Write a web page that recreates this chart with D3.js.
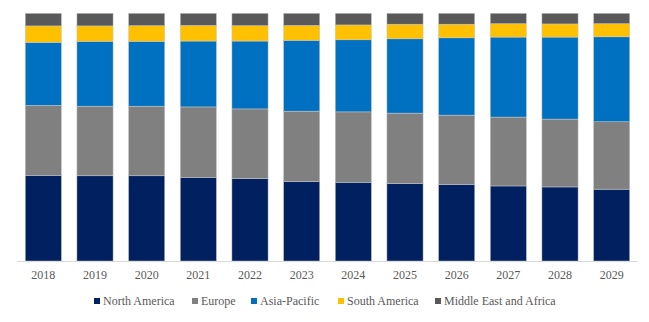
<!DOCTYPE html>
<html>
<head>
<meta charset="utf-8">
<script src="https://cdn.jsdelivr.net/npm/d3@7"></script>
<style>
  body { margin: 0; background: #fff; }
</style>
</head>
<body>
<svg id="chart" width="649" height="322"></svg>
<script>
var years = ['2018','2019','2020','2021','2022','2023','2024','2025','2026','2027','2028','2029'];
var seriesNames = ['North America','Europe','Asia-Pacific','South America','Middle East and Africa'];
var seriesColors = ['#002060','#808080','#0070c0','#ffc000','#595959'];

// share of market, percent
var northAmerica = [34.6, 34.4, 34.4, 33.8, 33.3, 32.1, 31.8, 31.3, 30.9, 30.3, 29.9, 29.0];
var europe       = [28.2, 28.1, 28.1, 28.4, 28.1, 28.4, 28.4, 28.4, 28.0, 27.8, 27.4, 27.2];
var asiaPacific  = [25.5, 26.2, 26.2, 26.6, 27.4, 28.6, 29.1, 30.0, 31.2, 32.3, 33.1, 34.3];
var southAmerica = [6.6, 6.2, 6.3, 6.3, 6.2, 6.0, 6.0, 5.9, 5.5, 5.4, 5.3, 5.3];
var mea          = [5.1, 5.1, 5.0, 4.9, 5.0, 4.9, 4.7, 4.4, 4.4, 4.2, 4.3, 4.2];

var liSeries = [northAmerica, europe, asiaPacific, southAmerica, mea];

var rows = years.map(function(y, i){
  var r = {year: y};
  seriesNames.forEach(function(n, j){ r[n] = liSeries[j][i]; });
  return r;
});

var stacked = d3.stack().keys(seriesNames).offset(d3.stackOffsetExpand)(rows);

var serif = '"Liberation Serif", "DejaVu Serif", "Times New Roman", serif';
var svg = d3.select('#chart');

var x = d3.scaleBand()
          .domain(years)
          .range([17.5, 637.5])
          .paddingInner(0.3)
          .paddingOuter(0.15);

var y = d3.scaleLinear()
          .domain([0, 1])
          .range([261, 13.3]);

var groups = svg.append('g')
  .selectAll('g')
  .data(stacked)
  .enter()
  .append('g')
  .style('fill', function(d, i){ return seriesColors[i]; });

groups.selectAll('rect')
  .data(function(d){ return d; })
  .enter()
  .append('rect')
  .attr('x', function(d){ return x(d.data.year); })
  .attr('width', x.bandwidth())
  .attr('y', function(d){ return y(d[1]); })
  .attr('height', function(d){ return y(d[0]) - y(d[1]); })
  .style('stroke', '#c8c8c8')
  .style('stroke-width', 0.5);

// x axis
var xAxis = svg.append('g')
  .attr('transform', 'translate(0,261)')
  .call(d3.axisBottom(x).tickSize(0).tickPadding(9));
xAxis.attr('font-family', serif).attr('font-size', 12);
xAxis.select('.domain').attr('stroke', '#d9d9d9').attr('d', 'M17.5,0.5H637.5');
xAxis.selectAll('text')
  .attr('fill', '#595959');

// legend
var legendX = [94, 192, 251, 338, 435];
var legend = svg.append('g')
  .attr('font-family', serif)
  .attr('font-size', 12);
seriesNames.forEach(function(n, i){
  legend.append('rect')
    .attr('x', legendX[i])
    .attr('y', 298)
    .attr('width', 6)
    .attr('height', 6)
    .style('fill', seriesColors[i]);
  legend.append('text')
    .attr('x', legendX[i] + 9)
    .attr('y', 305)
    .attr('fill', '#595959')
    .text(n);
});
</script>
</body>
</html>
